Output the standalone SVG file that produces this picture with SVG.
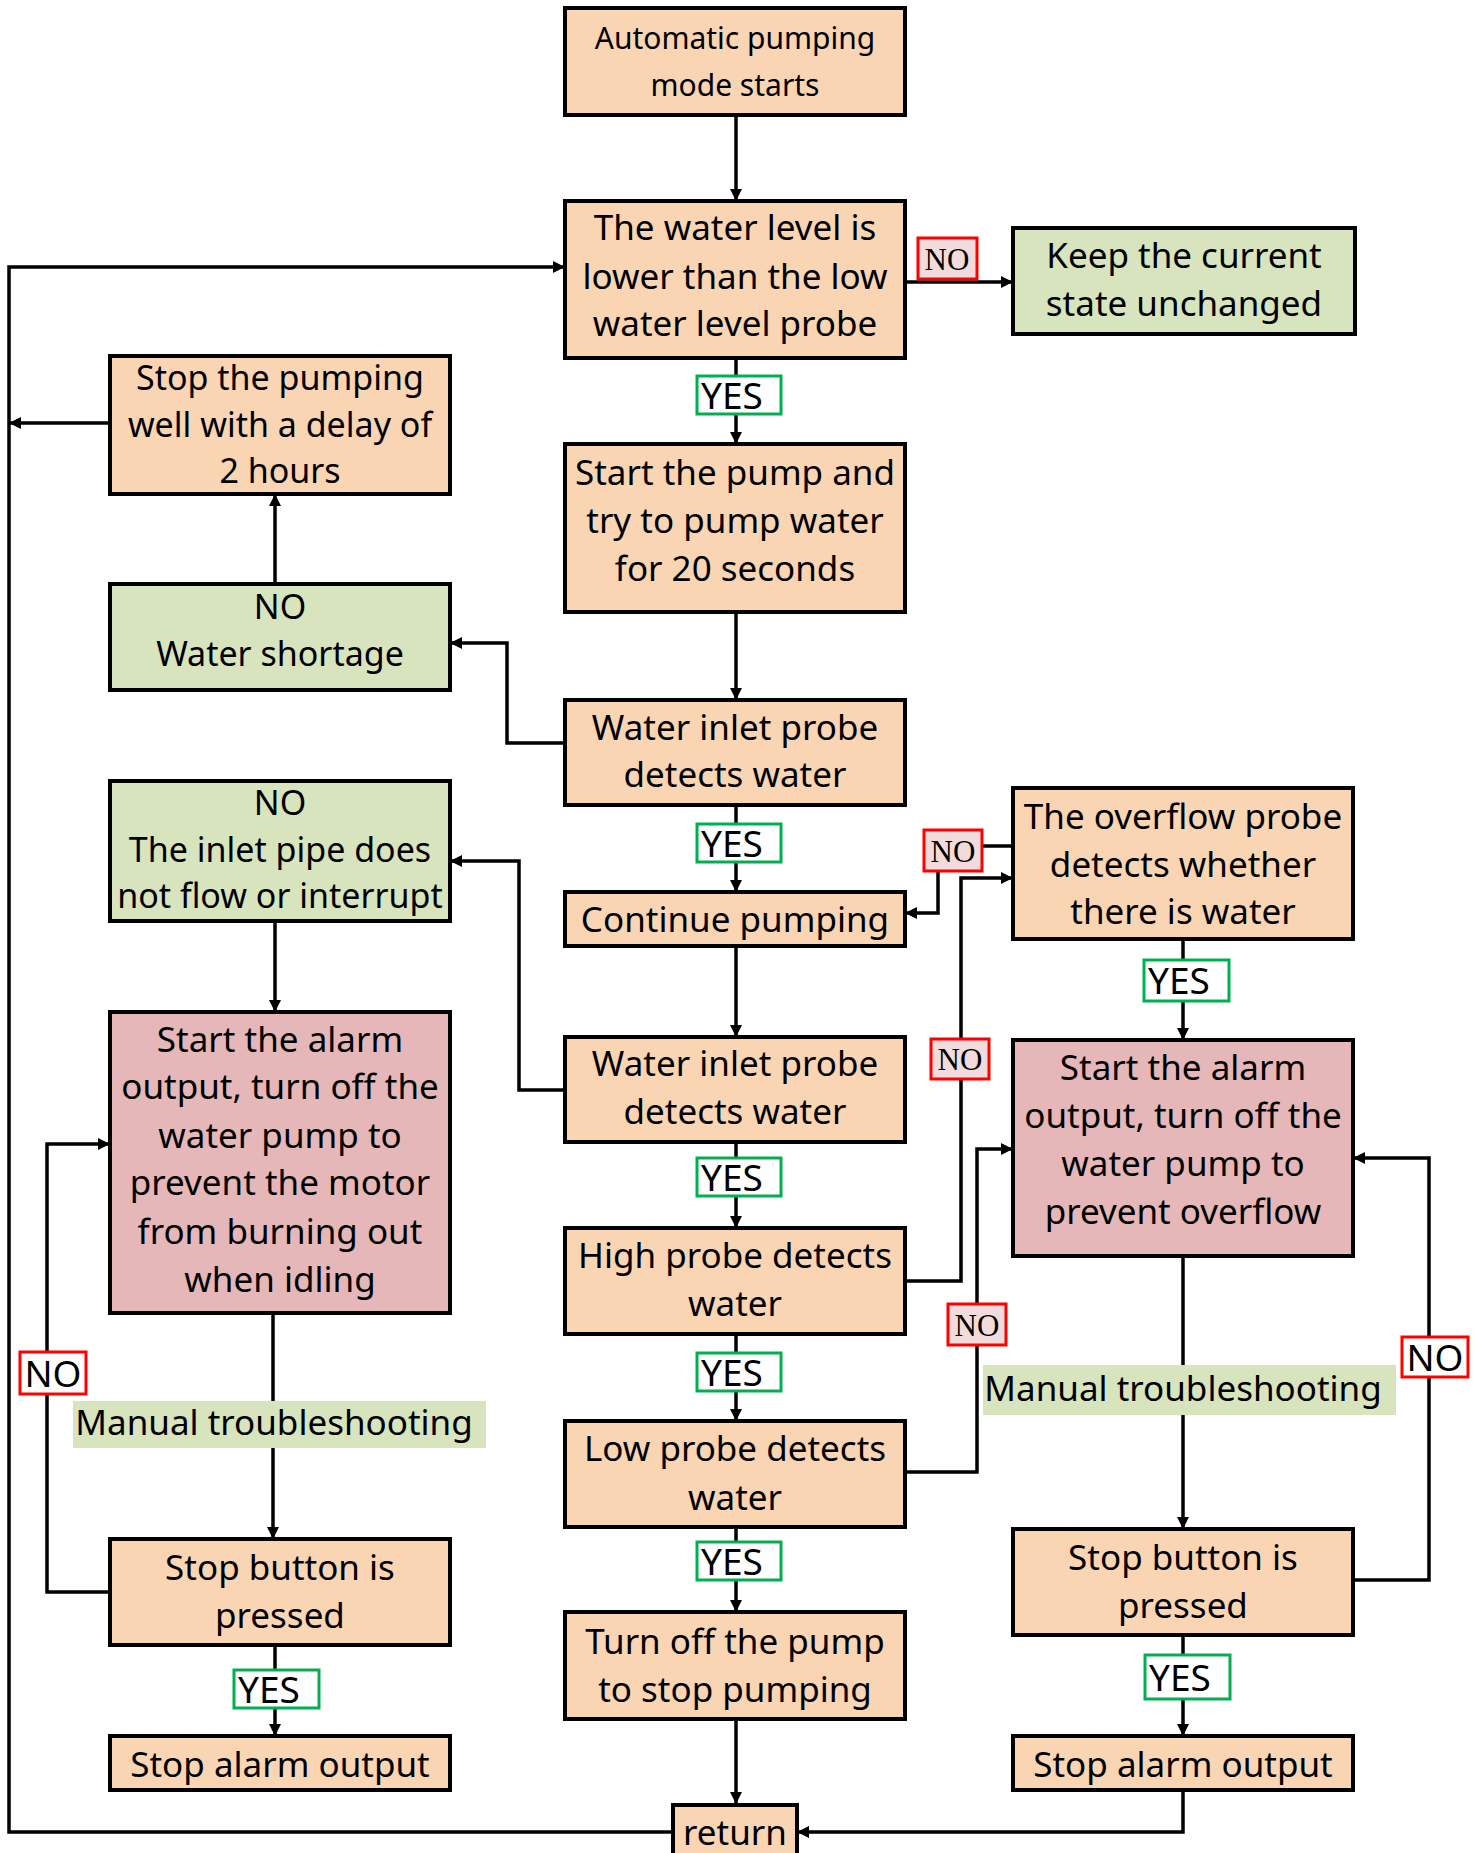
<svg xmlns="http://www.w3.org/2000/svg" width="1481" height="1853" viewBox="0 0 1481 1853">
<defs>
<marker id="arr" viewBox="0 0 10 10" refX="10" refY="5" markerWidth="13" markerHeight="12" markerUnits="userSpaceOnUse" orient="auto">
<path d="M0,0 L10,5 L0,10 z" fill="#000"/>
</marker>
<style>
.box{stroke:#000;stroke-width:4}
.p{fill:#F9D5B4}
.g{fill:#D7E4BD}
.r{fill:#E5B7B8}
.t{font-family:"Noto Sans","Open Sans",sans-serif;font-size:35px;fill:#000;text-anchor:middle;dominant-baseline:central}
.s{font-size:34px}
.c path{fill:none;stroke:#000;stroke-width:3.5;marker-end:url(#arr)}
.nos{fill:#F2DCDB;stroke:#FF0000;stroke-width:3}
.now{fill:#fff;stroke:#FF0000;stroke-width:3}
.yes{fill:#fff;stroke:#00B050;stroke-width:3}
.ls{font-family:"Liberation Serif","Times New Roman",serif;font-size:31px;fill:#000;text-anchor:middle;dominant-baseline:central}
.lt{font-family:"Noto Sans","Open Sans",sans-serif;font-size:37px;fill:#000;text-anchor:middle;dominant-baseline:central}
</style>
</defs>
<rect width="1481" height="1853" fill="#fff"/>

<g id="connectors" class="c">
<path d="M736,115 V201"/>
<path d="M905,282 H1013"/>
<path d="M736,358 V444"/>
<path d="M736,612 V700"/>
<path d="M565,743 H507 V643 H450"/>
<path d="M275,584 V494"/>
<path d="M110,423 H9"/>
<path d="M736,805 V892"/>
<path d="M736,946 V1037"/>
<path d="M565,1090 H519 V861 H450"/>
<path d="M275,921 V1012"/>
<path d="M736,1142 V1228"/>
<path d="M736,1334 V1421"/>
<path d="M736,1527 V1612"/>
<path d="M736,1719 V1804"/>
<path d="M905,1281 H961 V878 H1013"/>
<path d="M1013,846 H938 V913 H905"/>
<path d="M905,1472 H977 V1149 H1013"/>
<path d="M1183,939 V1040"/>
<path d="M1183,1256 V1529"/>
<path d="M1353,1580 H1429 V1158 H1353"/>
<path d="M1183,1635 V1736"/>
<path d="M1183,1790 V1832 H797"/>
<path d="M273,1313 V1539"/>
<path d="M110,1592 H47 V1144 H110"/>
<path d="M275,1645 V1736"/>
<path d="M673,1832 H9 V267 H565"/>
</g>

<g id="n1"><rect class="box p" x="565" y="8" width="340" height="107"/>
<text class="t" style="font-size:30px" x="735" y="37">Automatic pumping</text>
<text class="t" style="font-size:30px" x="735" y="84">mode starts</text></g>

<g id="n2"><rect class="box p" x="565" y="201" width="340" height="157"/>
<text class="t" x="735" y="226">The water level is</text>
<text class="t" x="735" y="275">lower than the low</text>
<text class="t" x="735" y="322">water level probe</text></g>

<g id="n3"><rect class="box g" x="1013" y="228" width="342" height="106"/>
<text class="t" x="1184" y="254">Keep the current</text>
<text class="t" x="1184" y="302">state unchanged</text></g>

<g id="n4"><rect class="box p" x="110" y="356" width="340" height="138"/>
<text class="t s" x="280" y="377">Stop the pumping</text>
<text class="t s" x="280" y="423.5">well with a delay of</text>
<text class="t s" x="280" y="470">2 hours</text></g>

<g id="n5"><rect class="box p" x="565" y="444" width="340" height="168"/>
<text class="t" x="735" y="471">Start the pump and</text>
<text class="t" x="735" y="519">try to pump water</text>
<text class="t" x="735" y="567">for 20 seconds</text></g>

<g id="n6"><rect class="box g" x="110" y="584" width="340" height="106"/>
<text class="t s" x="280" y="606">NO</text>
<text class="t s" x="280" y="652.5">Water shortage</text></g>

<g id="n7"><rect class="box p" x="565" y="700" width="340" height="105"/>
<text class="t" x="735" y="726">Water inlet probe</text>
<text class="t" x="735" y="773">detects water</text></g>

<g id="n8"><rect class="box g" x="110" y="781" width="340" height="140"/>
<text class="t s" x="280" y="802">NO</text>
<text class="t s" x="280" y="848.5">The inlet pipe does</text>
<text class="t s" x="280" y="895">not flow or interrupt</text></g>

<g id="n9"><rect class="box p" x="1013" y="788" width="340" height="151"/>
<text class="t" x="1183" y="815">The overflow probe</text>
<text class="t" x="1183" y="863">detects whether</text>
<text class="t" x="1183" y="910">there is water</text></g>

<g id="n10"><rect class="box p" x="565" y="892" width="340" height="54"/>
<text class="t" x="735" y="918">Continue pumping</text></g>

<g id="n11"><rect class="box r" x="110" y="1012" width="340" height="301"/>
<text class="t" x="280" y="1038">Start the alarm</text>
<text class="t" x="280" y="1085">output, turn off the</text>
<text class="t" x="280" y="1134">water pump to</text>
<text class="t" x="280" y="1181">prevent the motor</text>
<text class="t" x="280" y="1230">from burning out</text>
<text class="t" x="280" y="1278">when idling</text></g>

<g id="n12"><rect class="box p" x="565" y="1037" width="340" height="105"/>
<text class="t" x="735" y="1062">Water inlet probe</text>
<text class="t" x="735" y="1110">detects water</text></g>

<g id="n13"><rect class="box r" x="1013" y="1040" width="340" height="216"/>
<text class="t" x="1183" y="1066">Start the alarm</text>
<text class="t" x="1183" y="1114">output, turn off the</text>
<text class="t" x="1183" y="1162">water pump to</text>
<text class="t" x="1183" y="1210">prevent overflow</text></g>

<g id="n14"><rect class="box p" x="565" y="1228" width="340" height="106"/>
<text class="t" x="735" y="1254">High probe detects</text>
<text class="t" x="735" y="1302">water</text></g>

<g id="n15"><rect class="box p" x="565" y="1421" width="340" height="106"/>
<text class="t" x="735" y="1447">Low probe detects</text>
<text class="t" x="735" y="1496">water</text></g>

<g id="n16"><rect class="box p" x="110" y="1539" width="340" height="106"/>
<text class="t" x="280" y="1566">Stop button is</text>
<text class="t" x="280" y="1614">pressed</text></g>

<g id="n17"><rect class="box p" x="1013" y="1529" width="340" height="106"/>
<text class="t" x="1183" y="1556">Stop button is</text>
<text class="t" x="1183" y="1604">pressed</text></g>

<g id="n18"><rect class="box p" x="565" y="1612" width="340" height="107"/>
<text class="t" x="735" y="1640">Turn off the pump</text>
<text class="t" x="735" y="1688">to stop pumping</text></g>

<g id="n19"><rect class="box p" x="110" y="1736" width="340" height="54"/>
<text class="t" x="280" y="1763">Stop alarm output</text></g>

<g id="n20"><rect class="box p" x="1013" y="1736" width="340" height="54"/>
<text class="t" x="1183" y="1763">Stop alarm output</text></g>

<g id="n21"><rect class="box p" x="673" y="1805" width="124" height="60"/>
<text class="t" x="735" y="1831">return</text></g>

<g id="labels">
<rect class="nos" x="918" y="238" width="59" height="41"/><text class="ls" x="947" y="259">NO</text>
<rect class="nos" x="924" y="830" width="58" height="41"/><text class="ls" x="953" y="851">NO</text>
<rect class="nos" x="931" y="1039" width="58" height="40"/><text class="ls" x="960" y="1059">NO</text>
<rect class="nos" x="948" y="1304" width="58" height="41"/><text class="ls" x="977" y="1325">NO</text>
<rect class="now" x="1402" y="1337" width="66" height="40"/><text class="lt" x="1435" y="1356">NO</text>
<rect class="now" x="20" y="1352" width="66" height="42"/><text class="lt" x="53" y="1372">NO</text>
<rect class="yes" x="697" y="376" width="84" height="38"/><text class="lt" x="732" y="394">YES</text>
<rect class="yes" x="697" y="824" width="84" height="38"/><text class="lt" x="732" y="842">YES</text>
<rect class="yes" x="1144" y="960" width="85" height="41"/><text class="lt" x="1179" y="979">YES</text>
<rect class="yes" x="697" y="1158" width="84" height="38"/><text class="lt" x="732" y="1176">YES</text>
<rect class="yes" x="697" y="1353" width="84" height="38"/><text class="lt" x="732" y="1371">YES</text>
<rect class="yes" x="697" y="1542" width="84" height="38"/><text class="lt" x="732" y="1560">YES</text>
<rect class="yes" x="1145" y="1655" width="85" height="44"/><text class="lt" x="1180" y="1676">YES</text>
<rect class="yes" x="234" y="1670" width="85" height="38"/><text class="lt" x="269" y="1688">YES</text>
<rect fill="#D7E4BD" x="983" y="1365" width="413" height="50"/><text class="t" x="1183" y="1387">Manual troubleshooting</text>
<rect fill="#D7E4BD" x="73" y="1401" width="413" height="47"/><text class="t" x="274" y="1421">Manual troubleshooting</text>
</g>
</svg>
